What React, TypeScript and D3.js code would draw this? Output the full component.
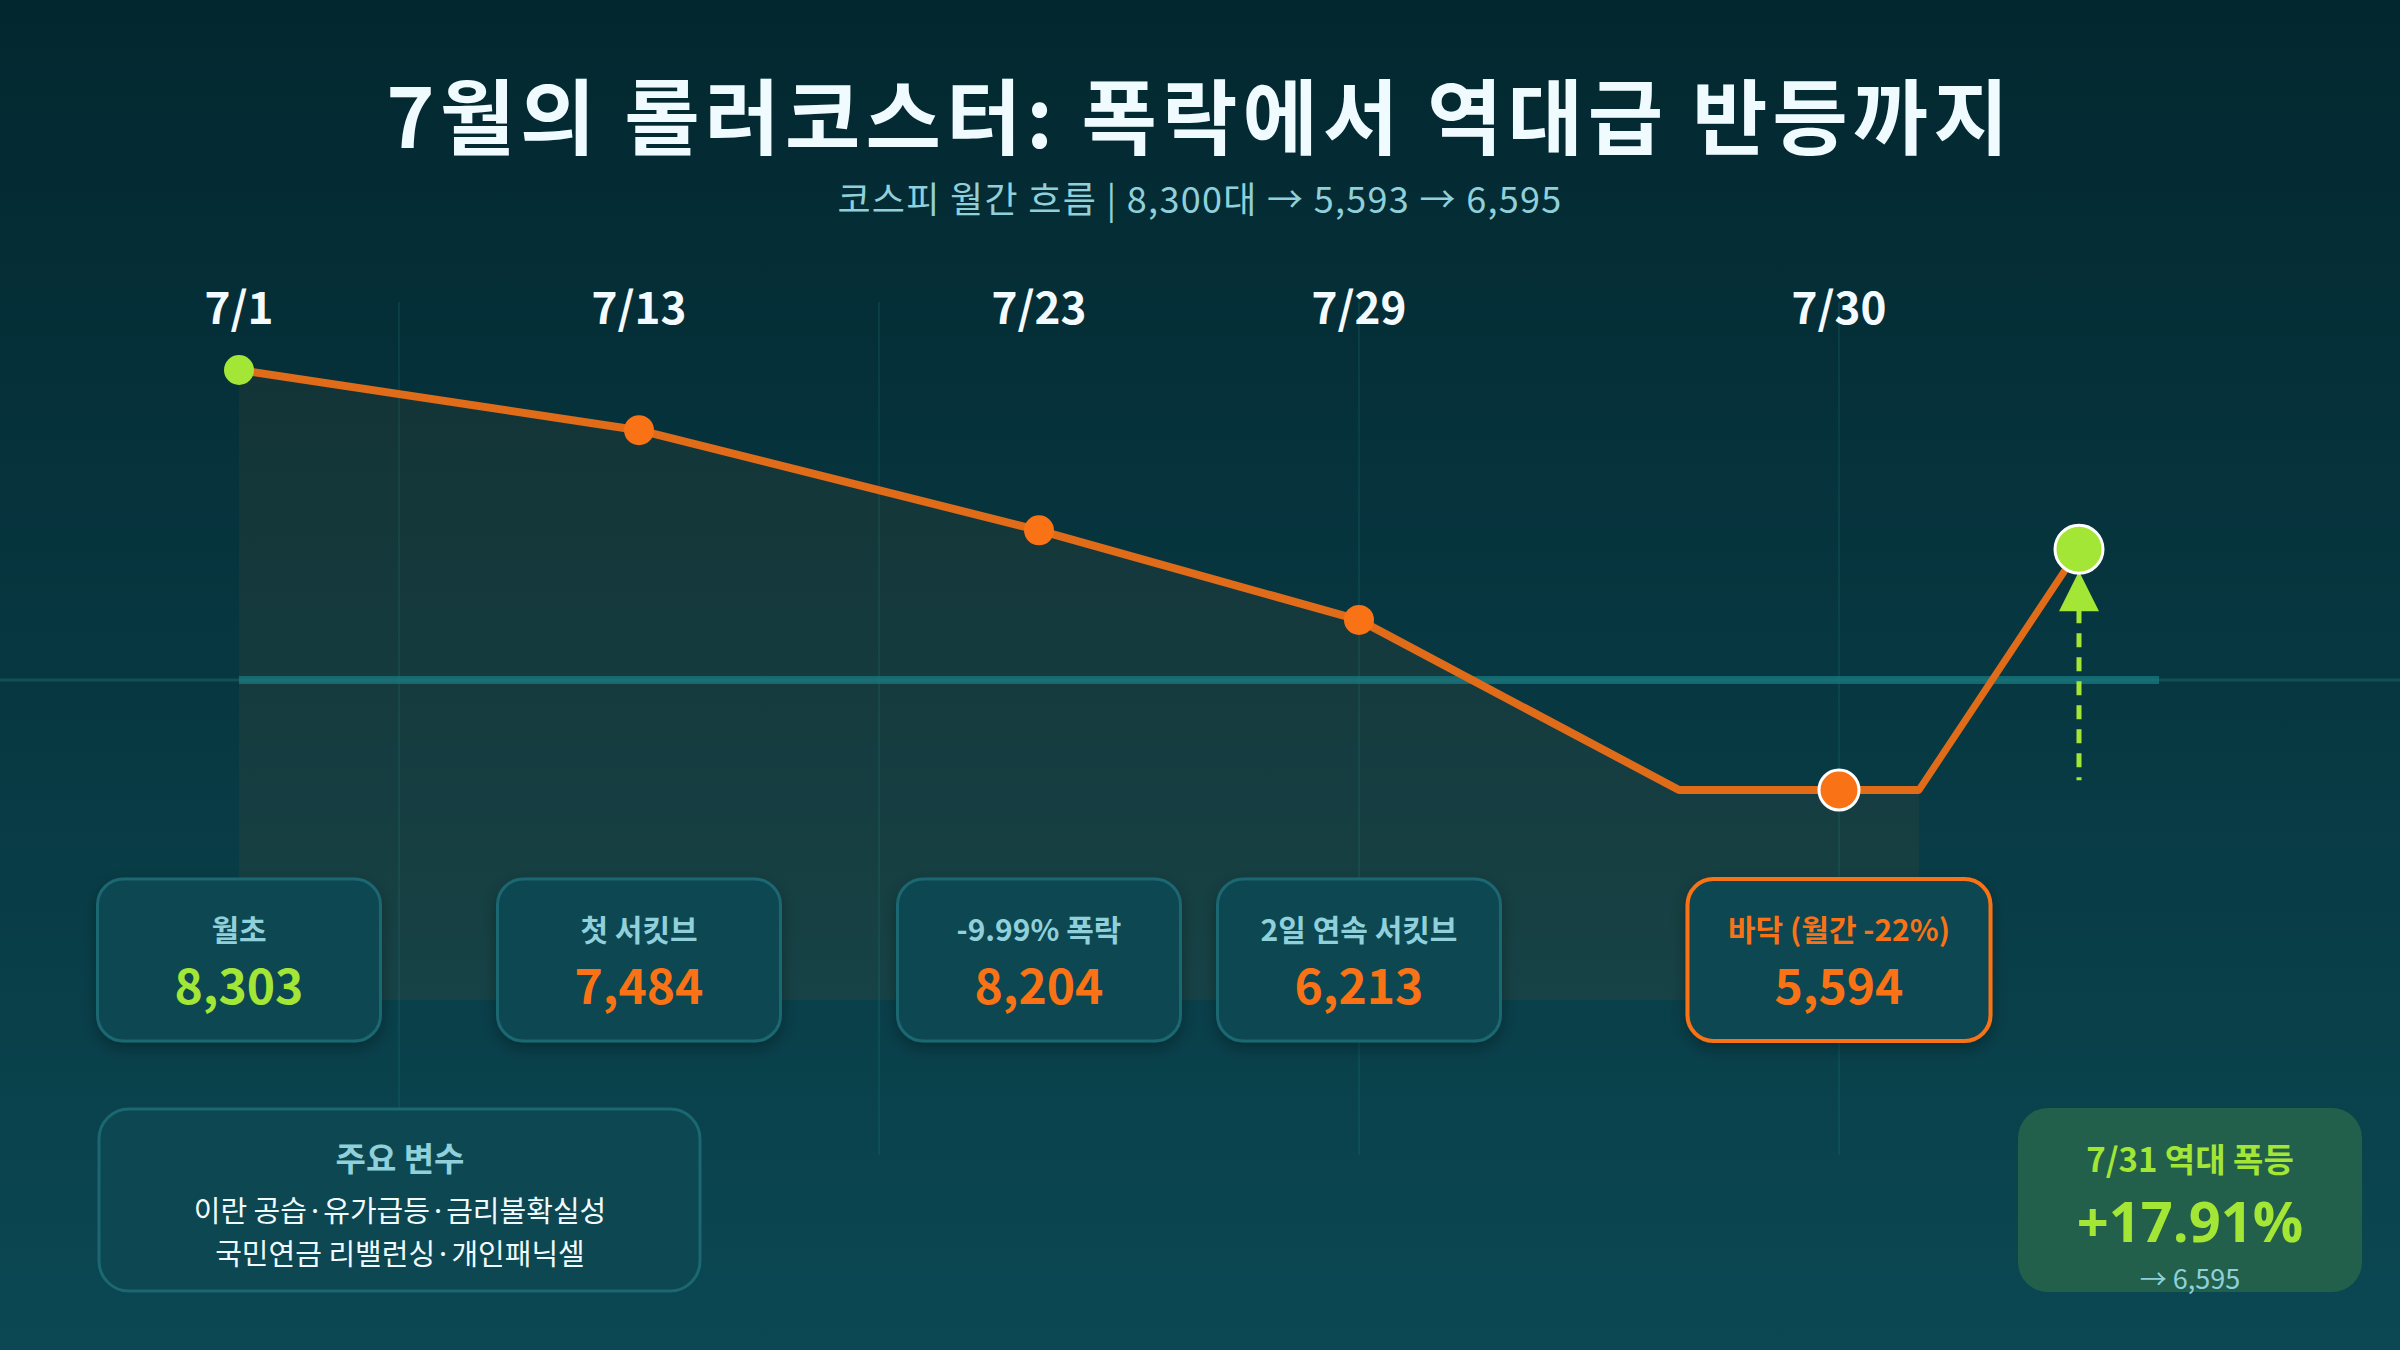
import { useEffect } from 'react';
import * as d3 from 'd3';

// stops on the ride (x slots of 80px, level = drawn height)
const dateLabels = ['7/1', '7/13', '7/23', '7/29', '7/30'];
const dateSlots = [0, 5, 10, 14, 20];
const pathSlots = [0, 5, 10, 14, 18, 20, 21];
const pathLevels = [90, 81.4, 67.1, 54.3, 30, 30, 30];
const reboundSlot = 23;
const reboundLevel = 64.4;
const baseLevel = 45.7;
const arrowEndLevel = 31.4;
const gridSlots = [2, 8, 14, 20];

const cardLabels = ['월초', '첫 서킷브', '-9.99% 폭락', '2일 연속 서킷브', '바닥 (월간 -22%)'];
const cardValues = [8303, 7484, 8204, 6213, 5594];

const factorTitle = '주요 변수';
const factorLines = ['이란 공습·유가급등·금리불확실성', '국민연금 리밸런싱·개인패닉셀'];

const reboundTitle = '7/31 역대 폭등';
const reboundPct = '+17.91%';
const reboundClose = '→ 6,595';

const W = 2400;
const H = 1350;
const FONT = '"Noto Sans CJK KR", "Noto Sans", sans-serif';
const LATIN = '"Open Sans", "Noto Sans", sans-serif';
const ORANGE = '#f97316';
const LINE = '#e06c1a';
const LIME = '#a3e635';
const TEAL_TXT = '#8fd0da';

export default function App() {
    useEffect(() => {
        document.body.style.margin = '0';
    }, []);

    const x = d3.scaleLinear().domain([0, 24]).range([239, 2159]);
    const y = d3.scaleLinear().domain([0, 100]).range([1000, 300]);
    const fmt = d3.format(',');

    const pts: [number, number][] = pathSlots.map((s, i) => [s, pathLevels[i]]);
    const line = d3.line<[number, number]>().x(d => x(d[0])).y(d => y(d[1]));
    const area = d3.area<[number, number]>().x(d => x(d[0])).y0(y(0)).y1(d => y(d[1]));

    const rx = x(reboundSlot);
    const ry = y(reboundLevel);
    const lastPt = pts[pts.length - 1];

    const cardY = 879;
    const cardH = 162;

    return (
        <svg width={W} height={H} style={{ display: 'block', fontFamily: FONT }}>
            <defs>
                <linearGradient id="bg" x1="0" y1="0" x2="0" y2="1">
                    <stop offset="0%" stopColor="#03272f" />
                    <stop offset="100%" stopColor="#0b4853" />
                </linearGradient>
                <filter id="shadow" x="-20%" y="-20%" width="140%" height="150%">
                    <feDropShadow dx="0" dy="6" stdDeviation="8" floodColor="#000" floodOpacity="0.3" />
                </filter>
            </defs>
            <rect width={W} height={H} fill="url(#bg)" />

            {/* title */}
            <text x={W / 2} y={112} textAnchor="middle" dominantBaseline="central"
                fontSize={82} fontWeight={700} letterSpacing={5} fill="#f0fbff">
                7월의 롤러코스터: 폭락에서 역대급 반등까지
            </text>
            <text x={W / 2} y={197} textAnchor="middle" dominantBaseline="central"
                fontSize={36} letterSpacing={1.3} fill={TEAL_TXT}>
                코스피 월간 흐름 | 8,300대 → 5,593 → 6,595
            </text>

            {/* grid */}
            {gridSlots.map(s => (
                <line key={s} x1={x(s)} x2={x(s)} y1={302} y2={1155}
                    stroke="#2a8c96" strokeOpacity={0.15} strokeWidth={2} />
            ))}
            <line x1={0} x2={W} y1={y(baseLevel)} y2={y(baseLevel)} stroke="#0f5059" strokeWidth={3} />

            {/* area + line */}
            <path d={area(pts) ?? ''} fill={ORANGE} fillOpacity={0.06} />
            <line x1={x(0)} x2={x(24)} y1={y(baseLevel)} y2={y(baseLevel)}
                stroke="#1a7a80" strokeOpacity={0.75} strokeWidth={8} />
            <path d={line(pts) ?? ''} fill="none" stroke={LINE} strokeWidth={8} strokeLinejoin="round" />
            <line x1={x(lastPt[0])} y1={y(lastPt[1])} x2={rx} y2={ry}
                stroke={LINE} strokeWidth={7} strokeLinecap="round" />

            {/* rebound arrow */}
            <line x1={rx} x2={rx} y1={ry + 60} y2={y(arrowEndLevel)}
                stroke={LIME} strokeWidth={5} strokeDasharray="14 10" />
            <path d={`M${rx},${ry + 22} L${rx - 20},${ry + 62} L${rx + 20},${ry + 62} Z`} fill={LIME} />

            {/* dots */}
            {dateSlots.map((s, i) => {
                const lv = pathLevels[pathSlots.indexOf(s)];
                if (i === 0) return <circle key={s} cx={x(s)} cy={y(lv)} r={15} fill={LIME} />;
                if (i === dateSlots.length - 1)
                    return <circle key={s} cx={x(s)} cy={y(lv)} r={20} fill={ORANGE} stroke="#fff" strokeWidth={3} />;
                return <circle key={s} cx={x(s)} cy={y(lv)} r={15} fill={ORANGE} />;
            })}
            <circle cx={rx} cy={ry} r={24} fill={LIME} stroke="#fff" strokeWidth={3} />

            {/* date labels */}
            {dateLabels.map((d, i) => (
                <text key={d} x={x(dateSlots[i])} y={305} textAnchor="middle" dominantBaseline="central"
                    fontSize={44} fontWeight={700} fill="#f4fbff">{d}</text>
            ))}

            {/* cards */}
            {cardLabels.map((lab, i) => {
                const cx = x(dateSlots[i]);
                const last = i === cardLabels.length - 1;
                const w = last ? 303 : 283;
                return (
                    <g key={lab}>
                        <rect x={cx - w / 2} y={cardY} width={w} height={cardH} rx={26}
                            fill="#0d4751" stroke={last ? ORANGE : '#1b6872'} strokeWidth={last ? 4 : 3}
                            filter="url(#shadow)" />
                        <text x={cx} y={cardY + 49} textAnchor="middle" dominantBaseline="central"
                            fontSize={30} fontWeight={700} fill={last ? ORANGE : TEAL_TXT}>{lab}</text>
                        <text x={cx} y={cardY + 104} textAnchor="middle" dominantBaseline="central"
                            fontSize={48} fontWeight={700} fill={i === 0 ? LIME : ORANGE}>{fmt(cardValues[i])}</text>
                    </g>
                );
            })}

            {/* factors box */}
            <rect x={99} y={1109} width={601} height={182} rx={30} fill="#0d4751" stroke="#1b6872" strokeWidth={3} />
            <text x={400} y={1157} textAnchor="middle" dominantBaseline="central"
                fontSize={33} fontWeight={700} fill={TEAL_TXT}>{factorTitle}</text>
            {factorLines.map((t, i) => (
                <text key={t} x={400} y={1209 + i * 43} textAnchor="middle" dominantBaseline="central"
                    fontSize={29} fill="#f0fbff">{t}</text>
            ))}

            {/* rebound box */}
            <rect x={2018} y={1108} width={344} height={184} rx={30} fill="#22604c" />
            <text x={2190} y={1158} textAnchor="middle" dominantBaseline="central"
                fontSize={33} fontWeight={700} fill={LIME}>{reboundTitle}</text>
            <text x={2190} y={1220} textAnchor="middle" dominantBaseline="central"
                fontFamily={LATIN} fontSize={56} fontWeight={700} fill={LIME}>{reboundPct}</text>
            <text x={2190} y={1277} textAnchor="middle" dominantBaseline="central"
                fontSize={27} fill={TEAL_TXT}>{reboundClose}</text>
        </svg>
    );
}
